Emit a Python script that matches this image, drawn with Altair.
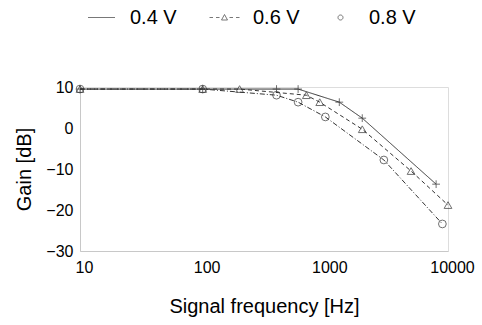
import altair as alt
import pandas as pd

series_names = ["0.4 V", "0.6 V", "0.8 V"]

freq_04 = [10, 100, 400, 600, 1300, 2000, 8000]
gain_04 = [9.5, 9.5, 9.5, 9.5, 6.3, 2.4, -13.7]

freq_06 = [10, 100, 200, 700, 900, 2000, 5000, 10000]
gain_06 = [9.5, 9.5, 9.5, 8.0, 6.3, -0.3, -10.5, -18.8]

freq_08 = [10, 100, 400, 600, 1000, 3000, 9000]
gain_08 = [9.5, 9.5, 8.0, 6.3, 2.7, -7.8, -23.4]

x_ticks = [10, 100, 1000, 10000]
y_ticks = [-30, -20, -10, 0, 10]

rows = []
for name, fs, gs in zip(series_names, [freq_04, freq_06, freq_08], [gain_04, gain_06, gain_08]):
    for f, g in zip(fs, gs):
        rows.append({"series": name, "freq": f, "gain": g})
df = pd.DataFrame(rows)

FONT = "Liberation Sans"
INK = "#333333"

x = alt.X("freq:Q", scale=alt.Scale(type="log", domain=[10, 10000], nice=False),
          axis=alt.Axis(values=x_ticks, format="d", title="Signal frequency [Hz]",
                        grid=False, ticks=False, domainColor="#c8c8c8",
                        labelFlush=False, labelOffset=4,
                        labelFontSize=16, titleFontSize=20, labelPadding=8,
                        titlePadding=21, titleFontWeight="normal",
                        labelFont=FONT, titleFont=FONT, labelColor="#000", titleColor="#000"))
y = alt.Y("gain:Q", scale=alt.Scale(domain=[-30, 10], nice=False),
          axis=alt.Axis(values=y_ticks, title="Gain [dB]", grid=False, ticks=False,
                        domainColor="#c8c8c8", labelFontSize=16, titleFontSize=20,
                        labelPadding=7, titlePadding=11, titleFontWeight="normal",
                        labelFlush=False,
                        labelFont=FONT, titleFont=FONT, labelColor="#000", titleColor="#000"))

base = alt.Chart(df)

lines = base.mark_line(color=INK, strokeWidth=1).encode(
    x=x, y=y,
    strokeDash=alt.StrokeDash("series:N",
                              scale=alt.Scale(domain=series_names,
                                              range=[[1, 0], [4, 3], [5, 2, 1, 2]]),
                              legend=None),
)

plus_path = "M-1,0L1,0M0,-1L0,1"
points = base.mark_point(color=INK, filled=False, strokeWidth=1, size=60).encode(
    x=x, y=y,
    shape=alt.Shape("series:N",
                    scale=alt.Scale(domain=series_names,
                                    range=[plus_path, "triangle-up", "circle"]),
                    legend=None),
)

leg_04 = "M-1.35,0L1.35,0"
leg_06 = "M-1.5,0L-1.15,0M-0.85,0L-0.5,0M-0.3,0.25L0,-0.3L0.3,0.25ZM0.5,0L0.85,0M1.15,0L1.5,0"
leg_08 = "M-0.25,0A0.25,0.25 0 1,0 0.25,0A0.25,0.25 0 1,0 -0.25,0"

legend_layer = base.mark_point(color="#555555", filled=False, strokeWidth=0.8).encode(
    x=x, y=y,
    opacity=alt.value(0),
    shape=alt.Shape("series:N",
                    scale=alt.Scale(domain=series_names, range=[leg_04, leg_06, leg_08]),
                    legend=alt.Legend(title=None, orient="none", direction="horizontal",
                                      columns=3, legendX=11, legendY=-80,
                                      gridAlign="none",
                                      symbolSize=400, labelFontSize=20, labelFont=FONT,
                                      labelColor="#000", labelOffset=18,
                                      columnPadding=30, symbolStrokeWidth=0.8)),
)

chart = alt.layer(lines, points, legend_layer).resolve_scale(
    shape="independent"
).properties(
    width=368, height=164,
    autosize=alt.AutoSizeParams(type="none"),
    padding={"left": 80, "top": 87, "right": 34, "bottom": 74},
).configure_view(stroke=None).configure(background="white")

chart.save("out.html", embed_options={"renderer": "svg", "actions": False})
